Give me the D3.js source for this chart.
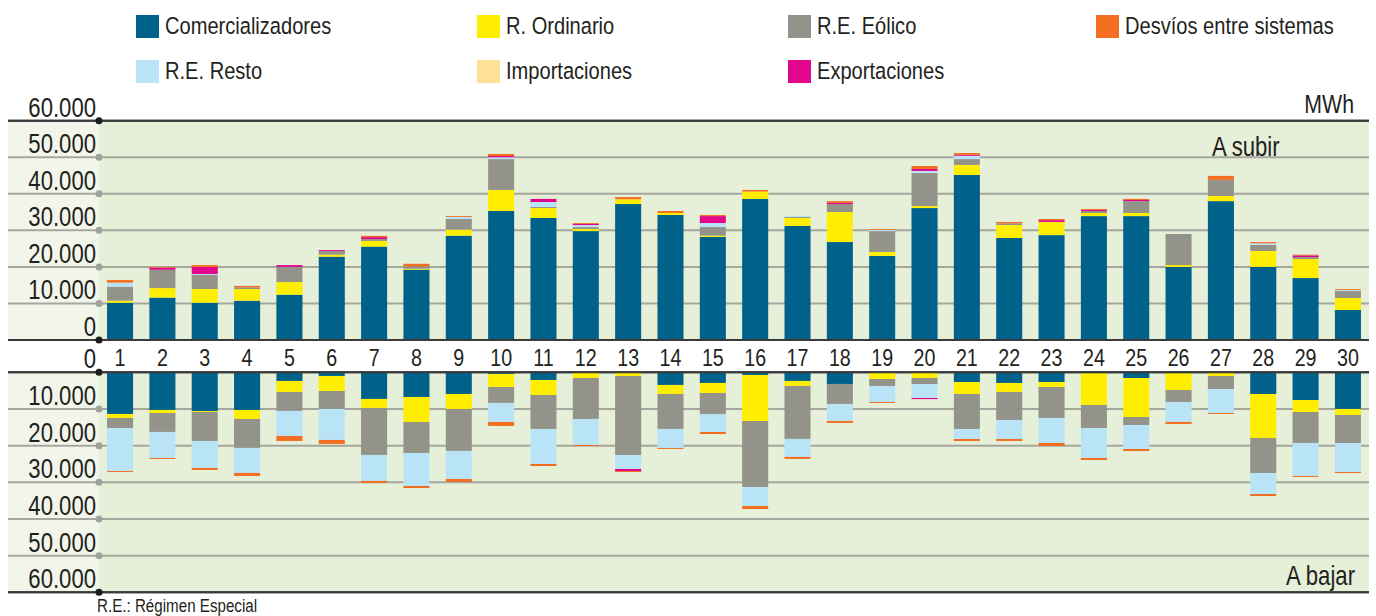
<!DOCTYPE html>
<html lang="es">
<head>
<meta charset="UTF-8">
<title>Energía de regulación</title>
<style>
  body { margin: 0; background: #fff; }
  svg text { font-family: "Liberation Sans", Arial, sans-serif; fill: #231f20; }
</style>
</head>
<body>
<div id="chart"></div>
<script src="https://d3js.org/d3.v7.min.js"></script>
<script>
// days of the month
var days = d3.range(1, 31);

var seriesKeys = ["com", "ord", "eol", "resto", "imp", "exp", "desv"];
var seriesNames = ["Comercializadores", "R. Ordinario", "R.E. Eólico", "Desvíos entre sistemas",
                   "R.E. Resto", "Importaciones", "Exportaciones"];
var legendKeys = ["com", "ord", "eol", "desv", "resto", "imp", "exp"];
var colors = { com: "#00618a", ord: "#ffee00", eol: "#94938a", resto: "#b9e4f8",
               imp: "#fde197", exp: "#e2068c", desv: "#f36e21" };

var yTicks = [0, 10000, 20000, 30000, 40000, 50000, 60000];

// "A subir" (MWh)
var upCom   = [10200, 11600, 10200, 10750, 12400, 22800, 25550, 19250, 28550, 35300, 33400, 29800, 37200, 34200, 28200, 38600, 31200, 26800, 23000, 36100, 45150, 27900, 28700, 33900, 33900, 20000, 38000, 20000, 16950, 8200];
var upOrd   = [550, 2600, 3750, 3200, 3450, 550, 1550, 250, 1650, 5750, 2700, 550, 1300, 550, 350, 2000, 2200, 8200, 1100, 550, 2750, 3550, 3600, 850, 850, 500, 1400, 4350, 5200, 3300];
var upEol   = [3850, 5000, 3850, 450, 4150, 1000, 500, 650, 2900, 8450, 300, 550, 0, 0, 2350, 0, 250, 2200, 5700, 9050, 1600, 450, 0, 550, 3250, 8500, 4400, 1650, 550, 1900];
var upResto = [1100, 0, 250, 0, 0, 0, 0, 0, 550, 500, 1350, 550, 0, 0, 1100, 0, 250, 0, 300, 550, 900, 0, 0, 0, 0, 0, 0, 450, 0, 300];
var upImp   = [0, 0, 0, 0, 0, 0, 0, 0, 0, 0, 0, 0, 0, 0, 0, 0, 0, 0, 0, 0, 0, 0, 0, 0, 0, 0, 0, 0, 0, 0];
var upExp   = [0, 600, 1950, 0, 500, 250, 550, 0, 0, 350, 850, 300, 0, 0, 1900, 0, 0, 300, 0, 550, 250, 0, 500, 300, 300, 0, 0, 0, 450, 0];
var upDesv  = [700, 200, 500, 400, 0, 0, 350, 700, 250, 550, 0, 250, 600, 550, 300, 450, 0, 500, 250, 800, 500, 400, 300, 250, 300, 0, 1100, 350, 200, 250];

// "A bajar" (MWh)
var downCom   = [11360, 10270, 10550, 10270, 2360, 1000, 7270, 6730, 5910, 450, 2090, 0, 0, 3450, 2910, 730, 2360, 3180, 0, 0, 2640, 2910, 2640, 270, 1550, 270, 0, 5910, 7550, 10000];
var downOrd   = [1090, 820, 270, 2450, 3000, 4090, 2450, 6820, 4090, 3550, 4090, 1550, 1000, 2450, 2730, 12550, 1360, 0, 1820, 1550, 3270, 2450, 1360, 8640, 10640, 4550, 1000, 12000, 3270, 1640];
var downEol   = [2730, 5180, 7910, 7910, 5180, 4910, 12820, 8450, 11450, 4360, 9270, 11180, 21550, 9550, 5730, 18000, 14450, 5450, 1910, 1640, 9550, 7640, 8450, 6270, 2180, 3270, 3550, 9550, 8450, 7640];
var downResto = [11730, 7090, 7360, 6820, 6820, 8450, 7090, 9000, 7640, 5180, 9550, 7090, 3820, 5180, 4910, 5180, 4910, 4640, 4360, 3820, 2730, 5180, 6820, 8180, 6550, 5450, 6550, 5730, 9000, 7910];
var downImp   = [0, 0, 0, 0, 0, 0, 0, 0, 0, 0, 0, 0, 0, 0, 0, 0, 0, 0, 0, 0, 0, 0, 0, 0, 0, 0, 0, 0, 0, 0];
var downExp   = [0, 0, 0, 0, 0, 0, 0, 0, 0, 0, 0, 0, 550, 0, 0, 0, 0, 0, 0, 300, 0, 0, 0, 0, 0, 0, 0, 0, 0, 0];
var downDesv  = [270, 270, 550, 820, 1360, 1090, 550, 550, 820, 1090, 550, 270, 270, 270, 550, 820, 550, 550, 270, 0, 550, 550, 820, 550, 550, 550, 270, 550, 270, 270];

function buildRows(arrs) {
    return days.map(function (d, i) {
        var row = { day: d };
        seriesKeys.forEach(function (k, j) { row[k] = arrs[j][i]; });
        return row;
    });
}
var upRows = buildRows([upCom, upOrd, upEol, upResto, upImp, upExp, upDesv]);
var downRows = buildRows([downCom, downOrd, downEol, downResto, downImp, downExp, downDesv]);

var W = 1376, H = 616;
var left = 8, plotLeft = 99, plotRight = 1369;
var squeeze = 0.82; // narrow face look

var svg = d3.select("#chart").append("svg")
    .attr("width", W).attr("height", H);

var x = d3.scaleBand()
    .domain(days)
    .range([plotLeft, plotRight])
    .paddingInner(0.385)
    .paddingOuter(0.19);

var yUp = d3.scaleLinear().domain([0, 60000]).range([340, 120.7]);
var yDown = d3.scaleLinear().domain([0, 60000]).range([372.3, 592.3]);

var fmt = function (v) { return d3.format(",")(v).replace(/,/g, "."); };

// narrow text helper
function label(sel, tx, ty, size, anchor, str) {
    return sel.append("text")
        .attr("transform", "translate(" + tx + "," + ty + ") scale(" + squeeze + ",1)")
        .attr("text-anchor", anchor || "start")
        .attr("font-size", size)
        .text(str);
}

// backgrounds
[yUp, yDown].forEach(function (y) {
    var top = Math.min(y(0), y(60000)), bottom = Math.max(y(0), y(60000));
    svg.append("rect").attr("x", left).attr("y", top)
        .attr("width", plotLeft - left).attr("height", bottom - top)
        .attr("fill", "#f2f6ea");
    svg.append("rect").attr("x", plotLeft).attr("y", top)
        .attr("width", plotRight - plotLeft).attr("height", bottom - top)
        .attr("fill", "#e6efd7");
});

// gridlines
function drawGrid(y) {
    svg.append("g").selectAll("line").data(yTicks).enter().append("line")
        .attr("x1", left).attr("x2", plotRight)
        .attr("y1", function (d) { return y(d); })
        .attr("y2", function (d) { return y(d); })
        .attr("stroke", function (d) { return (d === 0 || d === 60000) ? "#3a3a3a" : "#a5a79f"; })
        .attr("stroke-width", 2);
}
drawGrid(yUp);
drawGrid(yDown);

// bars
function drawBars(rows, y) {
    var stacked = d3.stack().keys(seriesKeys)(rows);
    svg.append("g").selectAll("g")
        .data(stacked).enter().append("g")
        .attr("fill", function (s) { return colors[s.key]; })
        .selectAll("rect")
        .data(function (s) { return s; })
        .enter().append("rect")
        .attr("x", function (d) { return x(d.data.day); })
        .attr("width", x.bandwidth())
        .attr("y", function (d) { return Math.min(y(d[0]), y(d[1])); })
        .attr("height", function (d) { return Math.abs(y(d[1]) - y(d[0])); });
}
drawBars(upRows, yUp);
drawBars(downRows, yDown);

// frame lines over the bars
[yUp(0), yUp(60000), yDown(0), yDown(60000)].forEach(function (yy) {
    svg.append("line").attr("x1", left).attr("x2", plotRight)
        .attr("y1", yy).attr("y2", yy)
        .attr("stroke", "#3a3a3a").attr("stroke-width", 2);
});

// tick dots and labels
function drawTicks(y) {
    var g = svg.append("g");
    g.selectAll("circle").data(yTicks).enter().append("circle")
        .attr("cx", plotLeft).attr("cy", function (d) { return y(d); })
        .attr("r", 3.5)
        .attr("fill", function (d) { return (d === 0 || d === 60000) ? "#1c1c1c" : "#a0a29b"; });
    yTicks.forEach(function (d) {
        label(g, 96, y(d) - 4, 27, "end", fmt(d));
    });
}
drawTicks(yUp);
drawTicks(yDown);

// day labels
var dayG = svg.append("g");
days.forEach(function (d) {
    label(dayG, x(d) + x.bandwidth() / 2, 366, 24, "middle", d);
});

// annotations
label(svg, 1354, 113, 26, "end", "MWh");
label(svg, 1212, 156, 27, "start", "A subir");
label(svg, 1355, 585, 27, "end", "A bajar");
label(svg, 97, 612, 18.5, "start", "R.E.: Régimen Especial");

// legend
var legendX = [136, 477, 788, 1096];
var legendY = [15, 60];
var legend = svg.append("g").selectAll("g")
    .data(legendKeys).enter().append("g")
    .attr("transform", function (k, i) {
        return "translate(" + legendX[i % 4] + "," + legendY[Math.floor(i / 4)] + ")";
    });
legend.append("rect").attr("width", 23).attr("height", 23)
    .attr("fill", function (k) { return colors[k]; });
legend.each(function (k, i) {
    label(d3.select(this), 29, 19, 24.5, "start", seriesNames[i]);
});
</script>
</body>
</html>
